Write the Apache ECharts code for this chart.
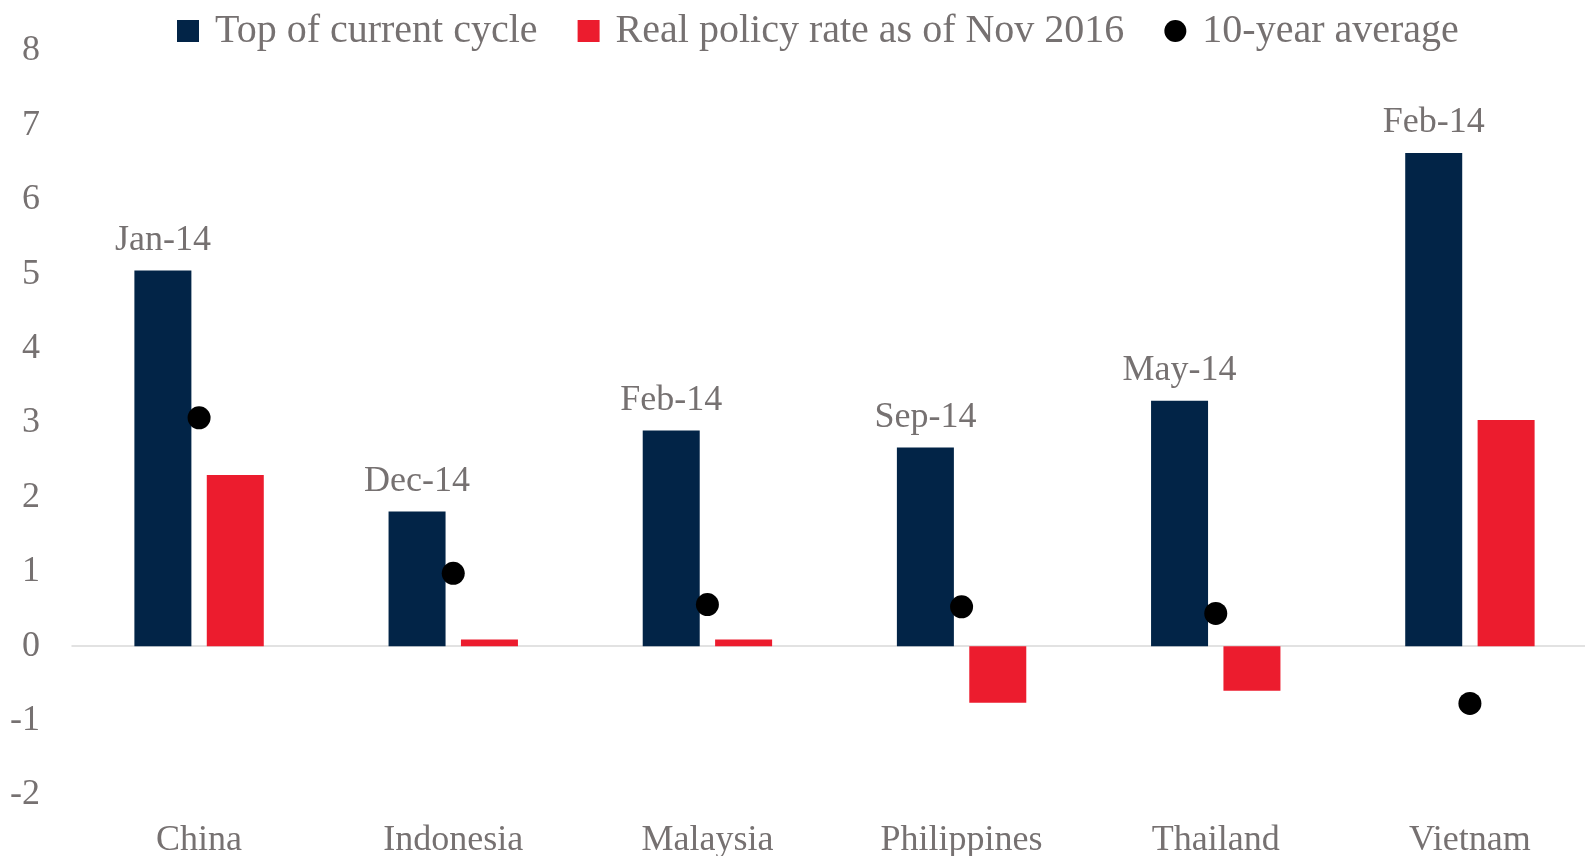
<!DOCTYPE html>
<html>
<head>
<meta charset="utf-8">
<script src="https://cdn.jsdelivr.net/npm/echarts@6/dist/echarts.min.js"></script>
<style>
  html, body { margin: 0; padding: 0; background: #fff; overflow: hidden; }
  /* the plot runs a little past the right edge of the window, like the original */
  #main { width: 1600px; height: 856px; }
</style>
</head>
<body>
<div id="main"></div>
<script>
// data
var countries = ['China', 'Indonesia', 'Malaysia', 'Philippines', 'Thailand', 'Vietnam'];
var topOfCycle = [5.05, 1.81, 2.9, 2.67, 3.3, 6.63];
var topDates = ['Jan-14', 'Dec-14', 'Feb-14', 'Sep-14', 'May-14', 'Feb-14'];
var realPolicyRate = [2.3, 0.09, 0.09, -0.76, -0.6, 3.04];
var tenYearAvg = [3.07, 0.98, 0.56, 0.53, 0.44, -0.77];

var FONT = '"Liberation Serif", "Times New Roman", serif';
var GREY = '#767171';

var myChart = echarts.init(document.getElementById('main'));

var option = {
  animation: false,
  textStyle: { fontFamily: FONT },
  legend: {
    top: 6,
    left: 172,
    itemWidth: 22,
    itemHeight: 22,
    itemGap: 40,
    textStyle: { fontFamily: FONT, fontSize: 40, color: GREY, padding: [0, 0, 0, 11] },
    data: [
      { name: 'Top of current cycle', icon: 'rect' },
      { name: 'Real policy rate as of Nov 2016', icon: 'rect' },
      { name: '10-year average', icon: 'circle' }
    ]
  },
  grid: { left: 72, top: 51, right: 3, bottom: 61, containLabel: false, outerBoundsMode: 'none' },
  xAxis: {
    type: 'category',
    data: countries,
    axisLine: { onZero: true, lineStyle: { color: '#d9d9d9', width: 1.5 } },
    axisTick: { show: false },
    axisLabel: { fontFamily: FONT, fontSize: 36, color: GREY, margin: 28 }
  },
  yAxis: {
    type: 'value',
    min: -2,
    max: 8,
    interval: 1,
    splitLine: { show: false },
    axisLine: { show: false },
    axisTick: { show: false },
    axisLabel: { fontFamily: FONT, fontSize: 36, color: GREY, margin: 32 }
  },
  series: [
    {
      name: 'Top of current cycle',
      type: 'bar',
      data: topOfCycle,
      barWidth: 57,
      barGap: '27%',
      itemStyle: { color: '#022447' },
      label: {
        show: true,
        position: 'top',
        distance: 12,
        fontFamily: FONT,
        fontSize: 36,
        color: GREY,
        formatter: function (p) { return topDates[p.dataIndex]; }
      }
    },
    {
      name: 'Real policy rate as of Nov 2016',
      type: 'bar',
      data: realPolicyRate,
      barWidth: 57,
      itemStyle: { color: '#EC1C2E' }
    },
    {
      name: '10-year average',
      type: 'scatter',
      data: tenYearAvg,
      symbol: 'circle',
      symbolSize: 23,
      z: 5,
      itemStyle: { color: '#000', opacity: 1 }
    }
  ]
};
myChart.setOption(option);
</script>
</body>
</html>
